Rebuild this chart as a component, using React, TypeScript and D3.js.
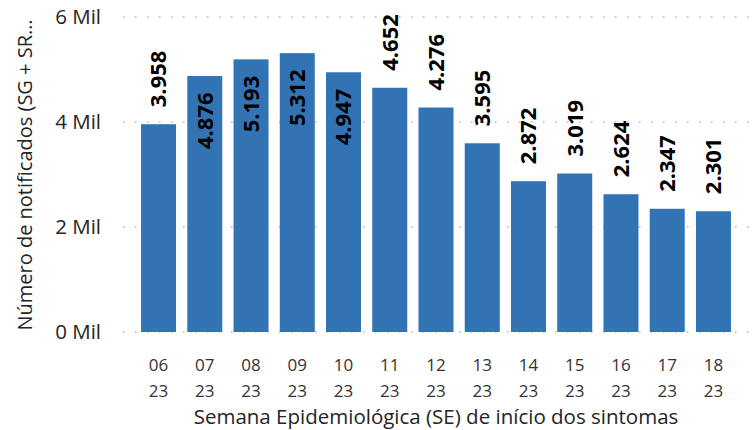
import * as d3 from "d3";

const weeks = ["06", "07", "08", "09", "10", "11", "12", "13", "14", "15", "16", "17", "18"];
const years = ["23", "23", "23", "23", "23", "23", "23", "23", "23", "23", "23", "23", "23"];
const cases = [3958, 4876, 5193, 5312, 4947, 4652, 4276, 3595, 2872, 3019, 2624, 2347, 2301];
const yTicks = [0, 2000, 4000, 6000];

const W = 756;
const H = 430;
const FONT = "'Open Sans', 'Noto Sans', sans-serif";

export default function App() {
  const x = d3
    .scaleBand<number>()
    .domain(d3.range(cases.length))
    .range([123, 749])
    .paddingInner(0.243)
    .paddingOuter(0.39);

  const y = d3.scaleLinear().domain([0, 6000]).range([332, 17]);

  const fmt = (v: number) => d3.format(",")(v).replace(",", ".");
  const labelGap = 17;
  const labelLen = 56;

  return (
    <svg width={W} height={H} style={{ position: "absolute", left: 0, top: 0 }} fontFamily={FONT}>
      {/* grid */}
      {yTicks.map((t) => (
        <g key={t}>
          <line
            x1={123}
            x2={749}
            y1={y(t)}
            y2={y(t)}
            stroke="#c8c8c8"
            strokeWidth={2}
            strokeDasharray="1.5 10.5"
          />
          <text x={101} y={y(t)} dy="0.36em" textAnchor="end" fontSize={20.5} fill="#252423">
            {t / 1000} Mil
          </text>
        </g>
      ))}

      {/* bars */}
      {cases.map((v, i) => (
        <rect key={i} x={x(i)} y={y(v)} width={x.bandwidth()} height={y(0) - y(v)} fill="#3274b3" />
      ))}

      {/* value labels */}
      {cases.map((v, i) => {
        const top = y(v);
        const outside = top - labelGap - labelLen >= 10;
        const cx = (x(i) as number) + x.bandwidth() / 2;
        const yy = outside ? top - labelGap : top + labelGap + labelLen;
        return (
          <text
            key={i}
            transform={`translate(${cx},${yy}) rotate(-90)`}
            dy="0.36em"
            textAnchor="start"
            fontSize={22}
            fontWeight="bold"
            fill="#000"
          >
            {fmt(v)}
          </text>
        );
      })}

      {/* x ticks */}
      {weeks.map((w, i) => {
        const cx = (x(i) as number) + x.bandwidth() / 2;
        return (
          <text key={i} x={cx} textAnchor="middle" fontSize={17} fill="#333">
            <tspan x={cx} y={371}>
              {w}
            </tspan>
            <tspan x={cx} y={396.5}>
              {years[i]}
            </tspan>
          </text>
        );
      })}

      {/* axis titles */}
      <text x={436} y={424} textAnchor="middle" fontSize={20.5} fill="#252423">
        Semana Epidemiológica (SE) de início dos sintomas
      </text>
      <text
        transform={`translate(25,175) rotate(-90)`}
        dy="0.36em"
        textAnchor="middle"
        fontSize={20}
        fill="#252423"
      >
        Número de notificados (SG + SR…
      </text>
    </svg>
  );
}
